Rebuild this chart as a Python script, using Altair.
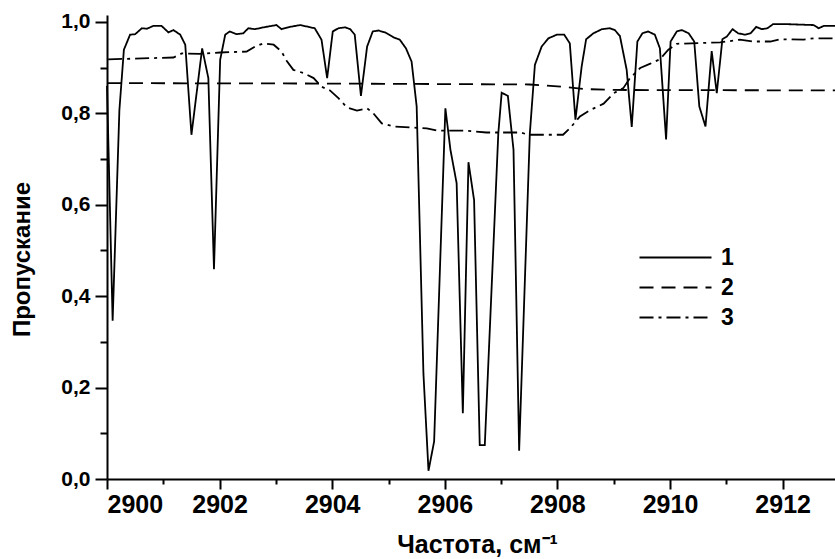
import altair as alt
import pandas as pd

# ---- data ----
x1 = [2900.00, 2900.10, 2900.22, 2900.30, 2900.41, 2900.50, 2900.62, 2900.71, 2900.82, 2900.97,
      2901.09, 2901.18, 2901.30, 2901.39, 2901.50, 2901.69, 2901.80, 2901.90, 2902.01, 2902.10,
      2902.18, 2902.30, 2902.42, 2902.51, 2902.63, 2902.78, 2903.01, 2903.10, 2903.25, 2903.43,
      2903.69, 2903.81, 2903.91, 2904.01, 2904.11, 2904.23, 2904.32, 2904.40, 2904.51, 2904.62,
      2904.72, 2904.82, 2904.94, 2905.09, 2905.20, 2905.31, 2905.41, 2905.50, 2905.62, 2905.71,
      2905.81, 2906.01, 2906.10, 2906.21, 2906.32, 2906.42, 2906.52, 2906.62, 2906.71, 2906.95,
      2907.01, 2907.12, 2907.22, 2907.32, 2907.51, 2907.60, 2907.72, 2907.84, 2907.99, 2908.12,
      2908.22, 2908.32, 2908.43, 2908.51, 2908.64, 2908.79, 2908.93, 2909.02, 2909.11, 2909.23,
      2909.32, 2909.42, 2909.51, 2909.61, 2909.73, 2909.82, 2909.93, 2910.01, 2910.12, 2910.21,
      2910.33, 2910.43, 2910.52, 2910.63, 2910.74, 2910.83, 2910.93, 2911.01, 2911.11, 2911.21,
      2911.33, 2911.43, 2911.53, 2911.63, 2911.73, 2911.83, 2912.07, 2912.55, 2912.64, 2912.73, 2912.93]
y1 = [0.86, 0.346, 0.807, 0.939, 0.972, 0.973, 0.986, 0.985, 0.991, 0.991,
      0.977, 0.982, 0.972, 0.950, 0.753, 0.942, 0.877, 0.459, 0.917, 0.972,
      0.979, 0.973, 0.975, 0.986, 0.984, 0.988, 0.993, 0.984, 0.989, 0.993,
      0.986, 0.961, 0.877, 0.979, 0.986, 0.988, 0.984, 0.972, 0.838, 0.946,
      0.979, 0.981, 0.977, 0.966, 0.961, 0.942, 0.913, 0.815, 0.231, 0.018,
      0.082, 0.811, 0.720, 0.647, 0.144, 0.693, 0.61, 0.074, 0.074, 0.756,
      0.845, 0.838, 0.720, 0.062, 0.756, 0.906, 0.946, 0.964, 0.972, 0.972,
      0.953, 0.786, 0.902, 0.962, 0.975, 0.984, 0.986, 0.982, 0.969, 0.895,
      0.770, 0.957, 0.975, 0.979, 0.972, 0.942, 0.743, 0.957, 0.979, 0.982,
      0.975, 0.957, 0.815, 0.771, 0.936, 0.844, 0.962, 0.968, 0.984, 0.975,
      0.972, 0.975, 0.989, 0.984, 0.986, 0.995, 0.995, 0.993, 0.986, 0.991, 0.991]

x2 = [2900.0, 2904.0, 2907.5, 2908.0, 2908.5, 2909.0, 2912.93]
y2 = [0.866, 0.865, 0.863, 0.859, 0.853, 0.851, 0.850]

x3 = [2900.02, 2901.18, 2901.33, 2901.65, 2902.01, 2902.48, 2902.63, 2902.78, 2902.96, 2903.10,
      2903.19, 2903.31, 2903.49, 2903.67, 2903.81, 2903.96, 2904.11, 2904.26, 2904.44, 2904.62,
      2904.73, 2904.88, 2905.09, 2905.68, 2905.86, 2906.39, 2906.74, 2907.34, 2907.49, 2908.10,
      2908.22, 2908.40, 2908.58, 2908.82, 2909.00, 2909.17, 2909.29, 2909.47, 2909.64, 2909.82,
      2909.97, 2910.12, 2910.89, 2911.24, 2911.48, 2911.78, 2911.95, 2912.37, 2912.55, 2912.93]
y3 = [0.918, 0.922, 0.931, 0.930, 0.933, 0.935, 0.946, 0.953, 0.950, 0.935,
      0.915, 0.895, 0.888, 0.877, 0.858, 0.850, 0.833, 0.813, 0.806, 0.811,
      0.800, 0.778, 0.771, 0.767, 0.762, 0.762, 0.758, 0.758, 0.753, 0.753,
      0.767, 0.793, 0.807, 0.821, 0.844, 0.855, 0.877, 0.899, 0.908, 0.918,
      0.939, 0.952, 0.955, 0.961, 0.957, 0.957, 0.962, 0.961, 0.964, 0.964]

series_names = ["1", "2", "3"]
x_ticks = list(range(2900, 2913))
y_ticks = [round(i * 0.1, 1) for i in range(11)]

assert len(x1) == len(y1) and len(x2) == len(y2) and len(x3) == len(y3)

rows = []
for name, xs, ys in zip(series_names, [x1, x2, x3], [y1, y2, y3]):
    for i, (a, b) in enumerate(zip(xs, ys)):
        rows.append({"series": name, "x": a, "y": b, "i": i})
df = pd.DataFrame(rows)

FONT = "Liberation Sans"

chart = alt.Chart(df).mark_line(color="black", strokeWidth=1.8).encode(
    x=alt.X("x:Q",
            scale=alt.Scale(domain=[2900, 2912.93], nice=False, zero=False),
            axis=alt.Axis(values=x_ticks, format="d",
                          labelExpr="datum.value % 2 === 0 ? datum.label : ''",
                          labelFontSize=25, labelPadding=3,
                          tickSize={"condition": {"test": "datum.value % 2 === 0", "value": 10}, "value": 5},
                          title="Частота, см⁻¹", titleFontSize=25,
                          titleX=370, titleY=73, titleBaseline="alphabetic", titleAlign="center")),
    y=alt.Y("y:Q",
            scale=alt.Scale(domain=[0, 1.015], nice=False),
            axis=alt.Axis(values=y_ticks,
                          labelExpr="round(datum.value*10) % 2 === 0 ? replace(format(datum.value, '.1f'), '.', ',') : ''",
                          labelFontSize=21, labelPadding=5,
                          tickSize={"condition": {"test": "round(datum.value*10) % 2 === 0", "value": 12}, "value": 7},
                          title="Пропускание", titleFontSize=24, titleX=-78, titleY=244,
                          titleAngle=270, titleBaseline="alphabetic", titleAlign="center")),
    strokeDash=alt.StrokeDash("series:N",
                              scale=alt.Scale(domain=series_names,
                                              range=[[1, 0], [14, 8], [14, 5, 3, 5]]),
                              legend=alt.Legend(title=None, orient="none", legendX=557, legendY=231,
                                                symbolType="M-4,0H4", symbolSize=324,
                                                symbolStrokeWidth=1.8, symbolStrokeColor="black",
                                                labelFont=FONT, labelFontSize=23, labelFontWeight="bold",
                                                labelColor="black", labelOffset=34, rowPadding=6)),
    order="i:Q",
).properties(
    width=728, height=464,
    autosize=alt.AutoSizeParams(type="none"),
    padding={"left": 107, "top": 15, "right": 0, "bottom": 80},
    background="white",
).configure_view(stroke=None).configure_axis(
    domainColor="black", domainWidth=2, tickColor="black", tickWidth=2,
    labelFont=FONT, labelFontWeight="bold", labelColor="black",
    titleFont=FONT, titleFontWeight="bold", titleColor="black",
    grid=False,
)

chart.save("out.html", embed_options={"renderer": "svg", "actions": False})
